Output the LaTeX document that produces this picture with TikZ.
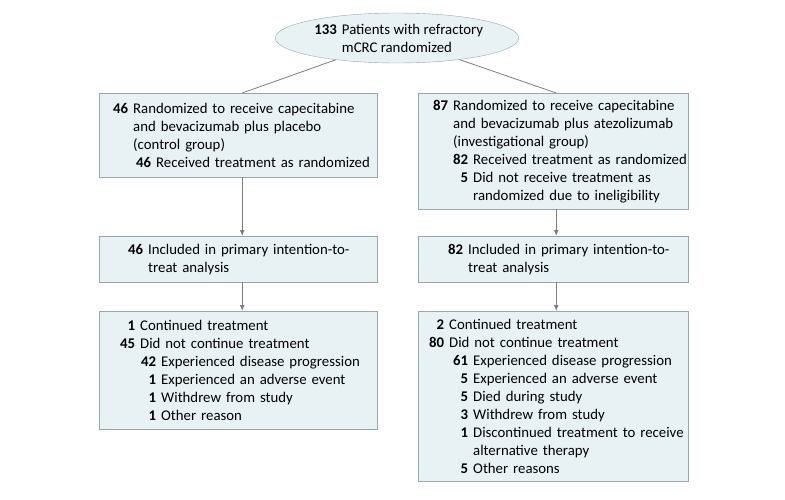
\documentclass[tikz,border=0pt]{standalone}
\usepackage{fontspec}
\setmainfont{Carlito}
\usetikzlibrary{shapes}
\usetikzlibrary{positioning}
\usetikzlibrary{arrows.meta}
\definecolor{boxfill}{RGB}{232,242,244}
\definecolor{boxline}{RGB}{150,168,172}
\definecolor{flowline}{RGB}{125,125,125}
\newcommand{\nrow}[3]{\makebox[#1][r]{\textbf{#2}}\hspace{5pt}#3}
\newcommand{\wrapline}[2]{\hspace*{\dimexpr#1+5pt\relax}#2}

\begin{document}
\begin{tikzpicture}[x=1pt,y=-1pt,
  every node/.style={font=\fontsize{14.8}{18}\selectfont},
  flowbox/.style={draw=boxline,fill=boxfill,rectangle,anchor=north west,inner sep=0pt,align=left},
  flow/.style={draw=flowline,line width=0.8pt},
  flowarrow/.style={flow,-{Latex[length=6pt,width=5pt]}}]

\useasboundingbox (0,0) rectangle (785,500);

%enrolment
\node (rand) [ellipse,draw=boxline,fill=boxfill,minimum width=209pt,minimum height=50pt,inner sep=0pt,align=left] at (397,38)
  {\nrow{26pt}{133}{Patients with refractory}\\ \wrapline{26pt}{mCRC randomized}};

%allocation
\node (lrand) [flowbox,minimum width=278pt,text width=278pt,minimum height=84pt] at (99,93)
  {\nrow{29pt}{46}{Randomized to receive capecitabine}\\
   \wrapline{29pt}{and bevacizumab plus placebo}\\
   \wrapline{29pt}{(control group)}\\
   \nrow{52pt}{46}{Received treatment as randomized}};
\node (rrand) [flowbox,minimum width=270pt,text width=270pt,minimum height=116pt] at (418,93)
  {\nrow{30pt}{87}{Randomized to receive capecitabine}\\
   \wrapline{30pt}{and bevacizumab plus atezolizumab}\\
   \wrapline{30pt}{(investigational group)}\\
   \nrow{50pt}{82}{Received treatment as randomized}\\
   \nrow{50pt}{5}{Did not receive treatment as}\\
   \wrapline{50pt}{randomized due to ineligibility}};

%analysis
\node (litt) [flowbox,minimum width=278pt,text width=278pt,minimum height=46pt] at (99,236)
  {\nrow{44pt}{46}{Included in primary intention-to-}\\
   \wrapline{44pt}{treat analysis}};
\node (ritt) [flowbox,minimum width=270pt,text width=270pt,minimum height=46pt] at (418,236)
  {\nrow{45pt}{82}{Included in primary intention-to-}\\
   \wrapline{45pt}{treat analysis}};

%follow-up
\node (lout) [flowbox,minimum width=278pt,text width=278pt,minimum height=118pt] at (99,311)
  {\nrow{36pt}{1}{Continued treatment}\\
   \nrow{36pt}{45}{Did not continue treatment}\\
   \nrow{57pt}{42}{Experienced disease progression}\\
   \nrow{57pt}{1}{Experienced an adverse event}\\
   \nrow{57pt}{1}{Withdrew from study}\\
   \nrow{57pt}{1}{Other reason}};
\node (rout) [flowbox,minimum width=270pt,text width=270pt,minimum height=170pt] at (418,311)
  {\nrow{26pt}{2}{Continued treatment}\\
   \nrow{26pt}{80}{Did not continue treatment}\\
   \nrow{50pt}{61}{Experienced disease progression}\\
   \nrow{50pt}{5}{Experienced an adverse event}\\
   \nrow{50pt}{5}{Died during study}\\
   \nrow{50pt}{3}{Withdrew from study}\\
   \nrow{50pt}{1}{Discontinued treatment to receive}\\
   \wrapline{50pt}{alternative therapy}\\
   \nrow{50pt}{5}{Other reasons}};

\draw[flow] (rand) -- ([xshift=4pt]lrand.north);
\draw[flow] (rand) -- ([xshift=3pt]rrand.north);
\draw[flowarrow] ([xshift=4pt]lrand.south) -- ([xshift=4pt]litt.north);
\draw[flowarrow] ([xshift=4pt]litt.south) -- ([xshift=4pt]lout.north);
\draw[flowarrow] ([xshift=3pt]rrand.south) -- ([xshift=3pt]ritt.north);
\draw[flowarrow] ([xshift=3pt]ritt.south) -- ([xshift=3pt]rout.north);

\end{tikzpicture}
\end{document}
